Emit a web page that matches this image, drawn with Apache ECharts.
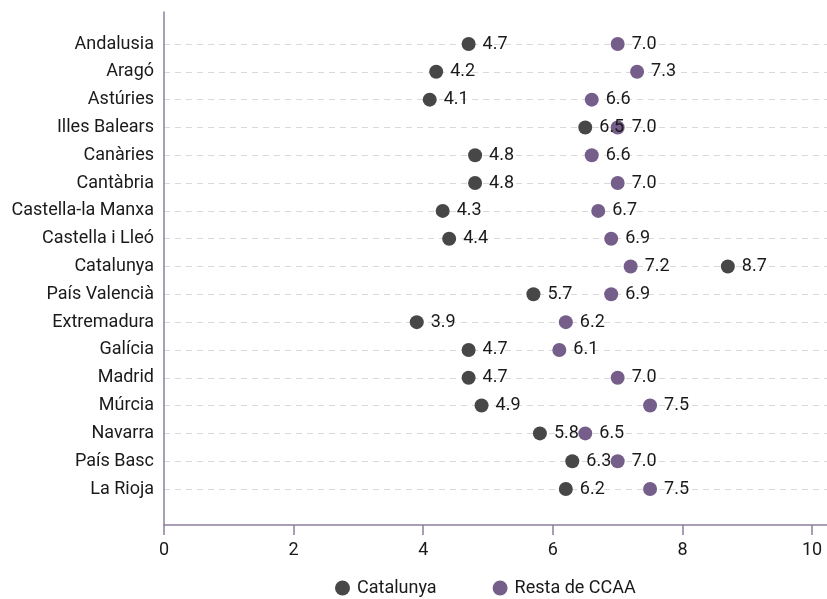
<!DOCTYPE html>
<html>
<head>
<meta charset="utf-8">
<script src="https://cdn.jsdelivr.net/npm/echarts@6/dist/echarts.min.js"></script>
<style>
html,body{margin:0;padding:0;background:#fff;}
#c{width:827px;height:599px;}
</style>
</head>
<body>
<div id="c"></div>
<script>
const categories = ['Andalusia','Aragó','Astúries','Illes Balears','Canàries','Cantàbria','Castella-la Manxa','Castella i Lleó','Catalunya','País Valencià','Extremadura','Galícia','Madrid','Múrcia','Navarra','País Basc','La Rioja'];
const catalunya = [4.7,4.2,4.1,6.5,4.8,4.8,4.3,4.4,8.7,5.7,3.9,4.7,4.7,4.9,5.8,6.3,6.2];
const restaCCAA = [7.0,7.3,6.6,7.0,6.6,7.0,6.7,6.9,7.2,6.9,6.2,6.1,7.0,7.5,6.5,7.0,7.5];
const xTicks = [0,2,4,6,8,10];
const seriesNames = ['Catalunya','Resta de CCAA'];

const FONT = 'Roboto';
const DARK = '#474747';
const PURPLE = '#765e8b';
const AXIS = '#8e7fa0';
const TEXT = '#1a1a1a';

const chart = echarts.init(document.getElementById('c'), null, {renderer:'canvas'});

function mk(name, vals, color, z){
  return {
    name: name,
    type: 'scatter',
    xAxisIndex: 0, yAxisIndex: 0,
    symbol: 'circle',
    symbolSize: 14,
    itemStyle: {color: color, opacity: 1},
    label: {
      show: true, position: 'right', distance: 7,
      fontFamily: FONT, fontSize: 18, color: TEXT,
      formatter: p => p.value[0].toFixed(1)
    },
    data: vals.map((v,i)=>[v, categories[i]]),
    z: z
  };
}

chart.setOption({
  animation: false,
  textStyle: {fontFamily: FONT},
  grid: [
    {left: 164, right: 0, top: 44, bottom: 110},
    {left: 164, right: 0, top: 12, bottom: 74}
  ],
  xAxis: [
    {
      gridIndex: 0, type: 'value', min: 0, max: 10.23,
      offset: 36,
      axisLine: {show: false},
      axisTick: {show: true, length: 10, lineStyle: {color: AXIS, width: 1.5}, customValues: xTicks},
      axisLabel: {show: true, margin: 16, fontFamily: FONT, fontSize: 18, color: TEXT, customValues: xTicks},
      splitLine: {show: false}
    },
    {
      gridIndex: 1, type: 'value', min: 0, max: 1,
      axisLine: {show: true, lineStyle: {color: AXIS, width: 1.5}},
      axisTick: {show: false}, axisLabel: {show: false}, splitLine: {show: false}
    }
  ],
  yAxis: [
    {
      gridIndex: 0, type: 'category', data: categories, inverse: true, boundaryGap: false,
      axisLine: {show: false}, axisTick: {show: false},
      axisLabel: {margin: 10, fontFamily: FONT, fontSize: 18, color: TEXT},
      splitLine: {show: true, lineStyle: {color: '#d9d9d9', type: [6,5], width: 1}}
    },
    {
      gridIndex: 1, type: 'value', min: 0, max: 1,
      axisLine: {show: true, lineStyle: {color: AXIS, width: 1.5}},
      axisTick: {show: false}, axisLabel: {show: false}, splitLine: {show: false}
    }
  ],
  legend: {
    data: seriesNames,
    left: 330, top: 574,
    icon: 'circle', itemWidth: 15, itemHeight: 15, itemGap: 56,
    textStyle: {fontFamily: FONT, fontSize: 18, color: TEXT, padding: [0,0,0,2]}
  },
  series: [mk(seriesNames[0], catalunya, DARK, 4), mk(seriesNames[1], restaCCAA, PURPLE, 3)]
});
</script>
</body>
</html>
